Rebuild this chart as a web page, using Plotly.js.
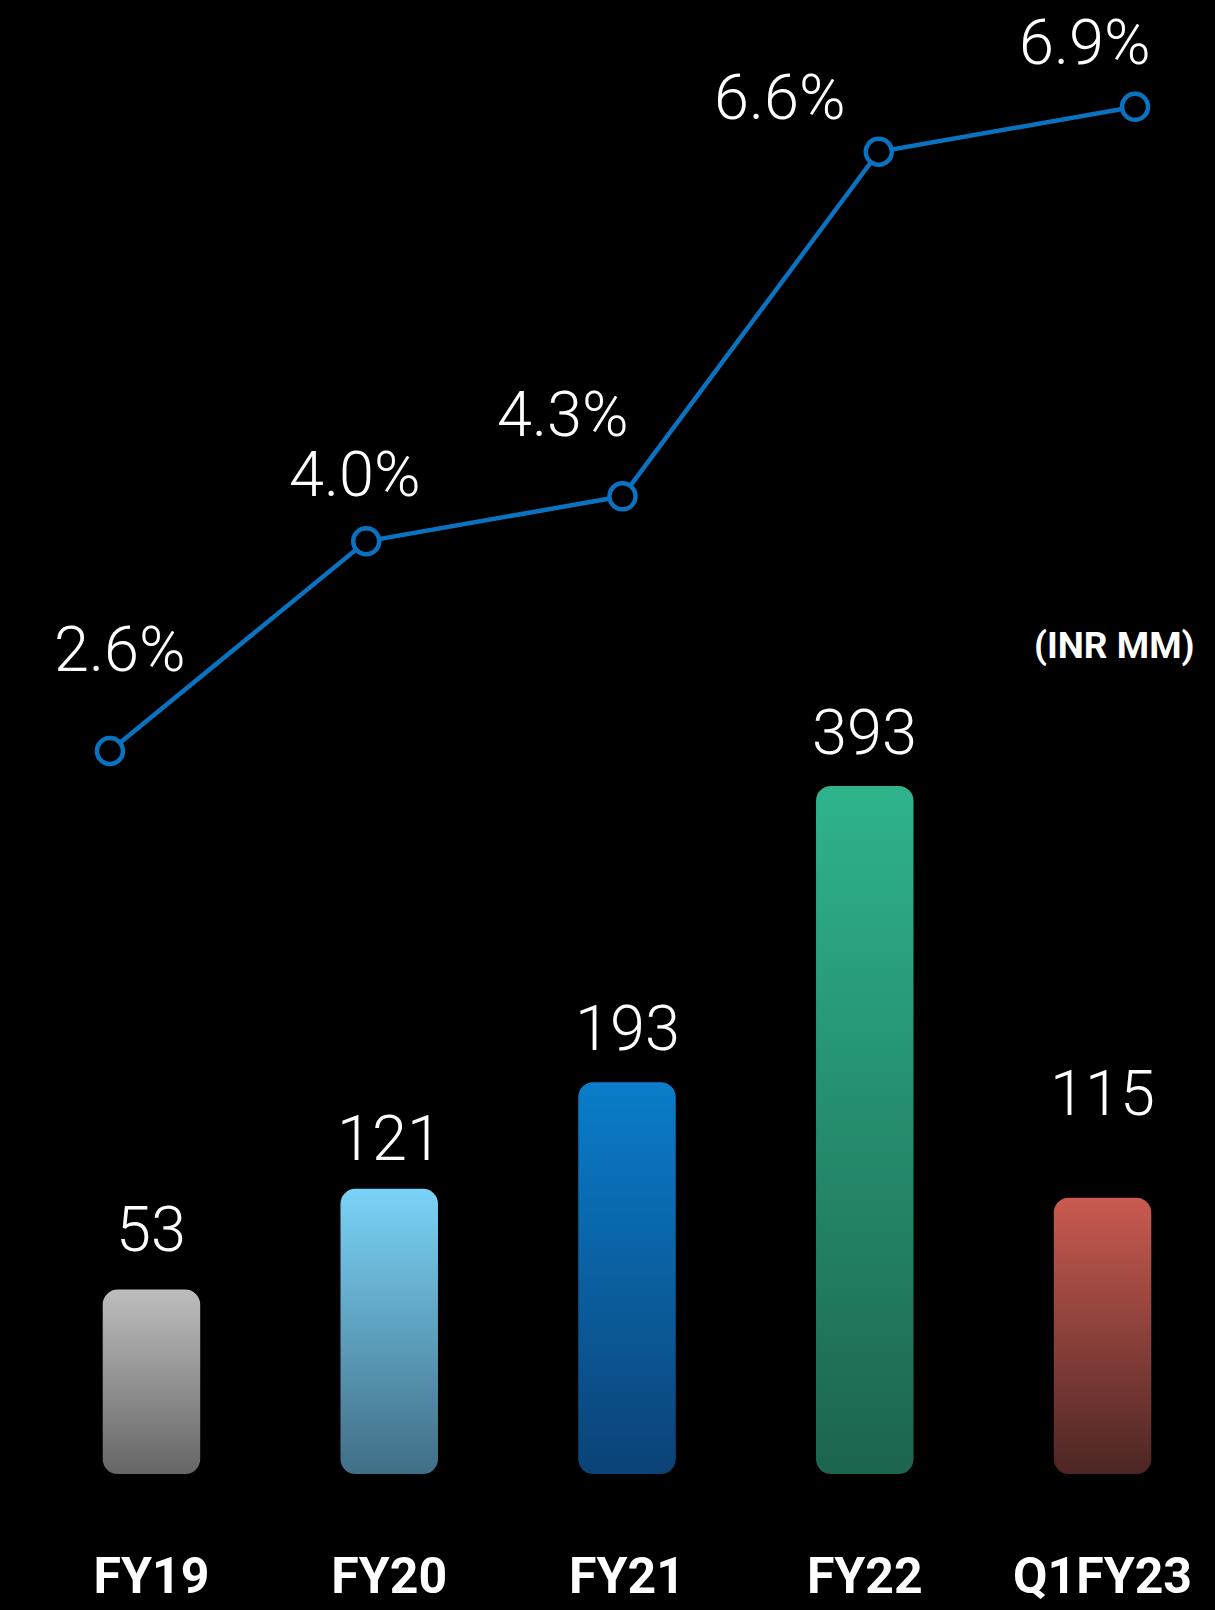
<!DOCTYPE html>
<html>
<head>
<meta charset="utf-8">
<script src="https://cdn.plot.ly/plotly-3.0.1.min.js"></script>
<style>
  html, body { margin: 0; padding: 0; background: #000; }
  #chart { width: 1215px; height: 1610px; }
</style>
</head>
<body>
<div id="chart"></div>
<script>
// ---- data ----
const categories = ["FY19", "FY20", "FY21", "FY22", "Q1FY23"];
const revenueValues = [53, 121, 193, 393, 115];          // INR MM (bars)
const marginValues = [2.6, 4.0, 4.3, 6.6, 6.9];           // % (line)
const valueLabels = ["53", "121", "193", "393", "115"];
const marginLabels = ["2.6%", "4.0%", "4.3%", "6.6%", "6.9%"];
const unitLabel = "(INR MM)";

// ---- styling (not data) ----
const barGradients = [
  ["#bdbdbd", "#666666"],
  ["#7ad3f7", "#416e86"],
  ["#0a7dcb", "#0b4276"],
  ["#2eb48d", "#1c6450"],
  ["#c95a50", "#4c2624"]
];
const valueLabelShift = [60, 50, 54, 53, 104];
const marginLabelShift = [[10, 102], [-11, 67], [-59, 82], [-99, 54], [-50, 64]];
const lineColor = "#0a72bf";
const barFloor = -71.6;

const barTrace = {
  type: "bar",
  x: categories,
  y: revenueValues.map(v => v - barFloor),
  base: barFloor,
  width: 0.41,
  marker: { color: "#888", cornerradius: 15, line: { width: 0 } },
  xaxis: "x", yaxis: "y",
  hoverinfo: "skip",
  showlegend: false
};

const lineTrace = {
  type: "scatter",
  mode: "lines+markers",
  x: categories,
  y: marginValues,
  xaxis: "x2", yaxis: "y2",
  line: { color: lineColor, width: 4.5 },
  marker: { symbol: "circle", size: 26, color: "#000", line: { color: lineColor, width: 4.5 } },
  hoverinfo: "skip",
  showlegend: false,
  cliponaxis: false
};

const annotations = [];
categories.forEach((c, i) => {
  annotations.push({
    x: c, y: revenueValues[i], xref: "x", yref: "y",
    text: valueLabels[i], showarrow: false,
    xanchor: "center", yanchor: "middle", yshift: valueLabelShift[i],
    font: { family: "Roboto, 'Open Sans', sans-serif", size: 63, color: "#ffffff", weight: 300 }
  });
  annotations.push({
    x: c, y: marginValues[i], xref: "x2", yref: "y2",
    text: marginLabels[i], showarrow: false,
    xanchor: "center", yanchor: "middle",
    xshift: marginLabelShift[i][0], yshift: marginLabelShift[i][1],
    font: { family: "Roboto, 'Open Sans', sans-serif", size: 63, color: "#ffffff", weight: 300 }
  });
});
annotations.push({
  x: 0.985, y: 1 - 645 / 1542, xref: "paper", yref: "paper",
  text: unitLabel, showarrow: false, xanchor: "right", yanchor: "middle",
  font: { family: "Roboto, sans-serif", size: 37, color: "#ffffff", weight: 700 }
});

const layout = {
  width: 1215, height: 1610,
  paper_bgcolor: "#000000", plot_bgcolor: "#000000",
  margin: { l: 0, r: 0, t: 0, b: 68, pad: 0 },
  showlegend: false,
  xaxis: {
    type: "category", range: [-0.637, 4.473], domain: [0, 1],
    showgrid: false, zeroline: false, showline: false, ticks: "",
    tickfont: { family: "Roboto, 'Liberation Sans', sans-serif", size: 50, color: "#ffffff", weight: 700 },
    fixedrange: true
  },
  yaxis: {
    range: [-117.5, 923.7], visible: false, showgrid: false, zeroline: false, fixedrange: true
  },
  xaxis2: {
    type: "category", range: [-0.429, 4.312], overlaying: "x", visible: false,
    showgrid: false, zeroline: false, fixedrange: true
  },
  yaxis2: {
    range: [-2.680, 7.613], overlaying: "y", visible: false,
    showgrid: false, zeroline: false, fixedrange: true
  },
  annotations: annotations
};

function applyGradients(gd) {
  const svg = gd.querySelector("svg.main-svg");
  if (!svg) return;
  const NS = "http://www.w3.org/2000/svg";
  let defs = svg.querySelector("defs");
  if (!defs) { defs = document.createElementNS(NS, "defs"); svg.insertBefore(defs, svg.firstChild); }
  barGradients.forEach((g, i) => {
    const id = "barGrad" + i;
    if (svg.querySelector("#" + id)) return;
    const lg = document.createElementNS(NS, "linearGradient");
    lg.setAttribute("id", id);
    lg.setAttribute("x1", "0"); lg.setAttribute("y1", "0");
    lg.setAttribute("x2", "0"); lg.setAttribute("y2", "1");
    [[0, g[0]], [1, g[1]]].forEach(([o, col]) => {
      const st = document.createElementNS(NS, "stop");
      st.setAttribute("offset", String(o));
      st.setAttribute("stop-color", col);
      lg.appendChild(st);
    });
    defs.appendChild(lg);
  });
  const paths = gd.querySelectorAll(".barlayer .trace .point path");
  paths.forEach((p, i) => {
    p.style.fill = "url(#barGrad" + (i % barGradients.length) + ")";
    p.style.fillOpacity = "1";
  });
}

const gd = document.getElementById("chart");
Plotly.newPlot(gd, [barTrace, lineTrace], layout, { staticPlot: true, displayModeBar: false })
  .then(() => applyGradients(gd));
</script>
</body>
</html>
